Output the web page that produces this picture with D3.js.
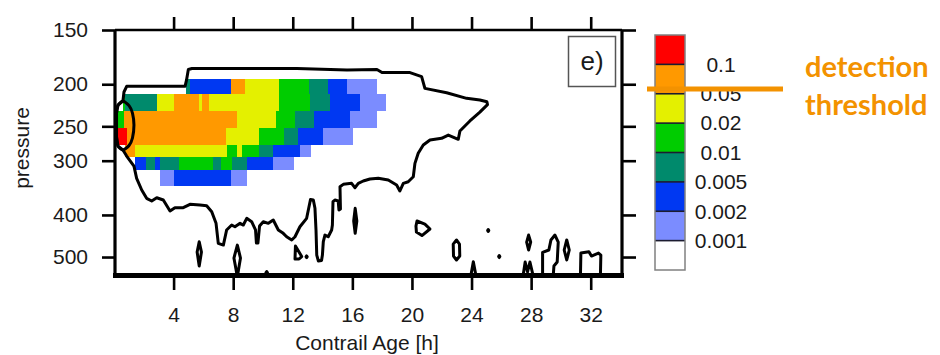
<!DOCTYPE html>
<html>
<head>
<meta charset="utf-8">
<script src="https://cdn.jsdelivr.net/npm/d3@7"></script>
<style>
  html, body { margin: 0; padding: 0; background: #ffffff; }
  svg { display: block; }
  .ax text { font-family: "Liberation Sans", Arial, Helvetica, sans-serif; font-size: 21px; fill: #1a1a1a; }
</style>
</head>
<body>
<svg id="chart" width="940" height="355"></svg>
<script>
// ---- data -------------------------------------------------------------
// contour levels (extinction) and the fill colour of each interval
const levels = [0.001, 0.002, 0.005, 0.01, 0.02, 0.05, 0.1];
const levelLabels = ["0.001", "0.002", "0.005", "0.01", "0.02", "0.05", "0.1"];
const palette = ["#ffffff", "#7b8cff", "#0038f2", "#008a6c", "#00cc00", "#e4f000", "#ff9900", "#ff0000"];

const xTicks = [4, 8, 12, 16, 20, 24, 28, 32];
const yTicks = [150, 200, 250, 300, 400, 500];

// pressure level edges (hPa) of the rows below
const rowEdges = [195, 211, 231, 252, 276, 294, 315, 343];

// per pressure row: [age start (h), age end (h), value]
const row0 = [[4.83, 5.10, 0.007], [5.10, 7.83, 0.003], [7.83, 8.79, 0.07], [8.79, 11.07, 0.03],
  [11.07, 13.11, 0.015], [13.11, 14.38, 0.007], [14.38, 15.66, 0.003], [15.66, 17.67, 0.0015]];
const row1 = [[0.58, 0.74, 0.015], [0.74, 2.87, 0.007], [2.87, 4.01, 0.03], [4.01, 5.72, 0.07],
  [5.72, 5.89, 0.03], [5.89, 6.40, 0.07], [6.40, 11.05, 0.03], [11.05, 13.13, 0.015],
  [13.13, 14.52, 0.007], [14.52, 16.53, 0.003], [16.53, 18.24, 0.0015]];
const row2 = [[0.23, 0.70, 0.015], [0.70, 8.23, 0.07], [8.23, 10.87, 0.03], [10.87, 12.15, 0.015],
  [12.15, 13.40, 0.007], [13.40, 15.84, 0.003], [15.84, 17.65, 0.0015]];
const row3 = [[0.22, 0.85, 0.15], [0.85, 7.52, 0.07], [7.52, 9.75, 0.03], [9.75, 11.41, 0.015],
  [11.41, 12.35, 0.007], [12.35, 14.01, 0.003], [14.01, 16.02, 0.0015]];
const row4 = [[0.74, 1.41, 0.07], [1.41, 7.56, 0.03], [7.56, 8.23, 0.015], [8.23, 8.59, 0.03],
  [8.59, 9.75, 0.015], [9.75, 10.65, 0.007], [10.65, 12.50, 0.003], [12.50, 13.22, 0.0015]];
const row5 = [[1.41, 2.15, 0.003], [2.15, 2.72, 0.007], [2.72, 3.09, 0.003], [3.09, 4.38, 0.007],
  [4.38, 6.64, 0.015], [6.64, 7.18, 0.007], [7.18, 7.90, 0.015], [7.90, 8.95, 0.007],
  [8.95, 10.65, 0.003], [10.65, 12.10, 0.0015]];
const row6 = [[3.09, 4.03, 0.0015], [4.03, 7.84, 0.003], [7.84, 8.93, 0.0015]];
const rows = [row0, row1, row2, row3, row4, row5, row6];

// outline of the supersaturated region: [age (h), pressure (hPa)]
const outline = [
  [4.99, 185], [5.23, 184], [12.28, 184], [15.64, 185.4], [17.65, 185], [17.99, 188], [19.87, 188],
  [20.65, 192], [20.87, 204.4], [22.33, 209.2], [23.67, 215.5], [24.56, 217.4], [25.03, 219.4],
  [25.07, 222.8], [24.56, 231.8], [23.89, 243], [23.22, 256.3], [23.11, 267.8], [22.44, 261.9],
  [21.99, 266.4], [21.21, 268.8], [20.76, 276.1], [20.42, 288.5], [20.20, 304.3], [20.09, 326.7],
  [19.75, 335.4], [19.42, 338.3], [19.19, 352.3], [18.97, 341.4], [18.41, 332.3], [17.74, 329.4],
  [17.18, 330.6], [16.73, 334.1], [16.40, 338.3], [16.17, 346.2], [15.95, 338.3], [15.39, 340.1],
  [15.17, 344.4], [15.20, 387.6], [15.10, 389.6], [15.05, 371.5], [14.83, 369.5], [14.70, 372.9],
  [14.66, 422], [14.61, 433.2], [14.38, 449], [14.16, 445], [14.05, 461], [13.99, 494.8],
  [13.93, 509.3], [13.72, 510.7], [13.61, 494.8], [13.56, 433.2], [13.49, 386.2], [13.38, 369.5],
  [13.19, 368.5], [12.93, 407.2], [12.48, 425.8], [12.15, 449], [11.93, 456.8], [11.59, 449],
  [11.36, 441], [11.03, 433.2], [10.69, 410.8], [10.36, 418.2], [10.02, 414.6], [9.77, 424.2],
  [9.66, 464.3], [9.56, 464.3], [9.50, 433.2], [9.24, 414.6], [8.91, 407.2], [8.68, 422],
  [8.46, 418.2], [8.12, 425.8], [7.90, 422], [7.56, 433.2], [7.34, 469.3], [7.00, 465],
  [6.85, 418.2], [6.56, 393.2], [6.22, 381], [5.77, 379.6], [5.10, 378.1], [4.65, 384.9],
  [4.09, 384.9], [3.76, 391.7], [3.31, 369.5], [2.87, 365.1], [2.53, 371.5], [2.19, 366.3],
  [1.86, 350.4], [1.52, 329.4], [1.34, 308.7], [0.85, 292.7], [0.60, 283.4], [0.27, 277.6],
  [0.17, 264.6], [0.17, 233], [0.27, 223.4], [0.60, 218.6], [0.67, 208.4], [0.85, 202.2],
  [4.77, 202.2], [4.87, 195.5]
];

// young-contrail core
const core = [[0.60, 218.6], [1.01, 224], [1.24, 233], [1.34, 248.3], [1.24, 266], [1.01, 276.8],
  [0.60, 283.4], [0.27, 277.6], [0.17, 264.6], [0.17, 233], [0.27, 223.4]];

// small isolated patches near the lower boundary
const patches = [
  [[5.72, 461], [5.87, 487], [5.72, 524.5], [5.58, 487]],
  [[8.28, 469.3], [8.49, 502.7], [8.28, 555], [8.05, 502.7]],
  [[10.25, 540], [10.3, 543], [10.25, 546], [10.2, 543]],
  [[12.18, 471.7], [12.6, 498.7], [12.42, 505.3], [12.15, 505.3]],
  [[12.93, 497], [12.97, 499.3], [12.93, 501.6], [12.89, 499.3]],
  [[16.19, 386.2], [16.3, 413], [16.19, 441], [16.09, 413]],
  [[20.34, 413], [20.87, 419.8], [21.21, 430.9], [20.67, 446.2], [20.30, 437.9], [20.27, 424.2]],
  [[25.12, 432], [25.16, 434.4], [25.12, 436.8], [25.08, 434.4]],
  [[22.99, 456.8], [23.19, 466.8], [23.21, 497.4], [22.99, 507.9], [22.79, 497.4], [22.77, 466.8]],
  [[25.86, 496], [25.9, 498.7], [25.86, 501.4], [25.82, 498.7]],
  [[23.94, 555], [24.12, 512.6], [24.31, 555]],
  [[27.83, 445], [27.97, 461.8], [27.83, 481.7], [27.7, 461.8]],
  [[27.45, 555], [27.6, 513.4], [27.76, 541.3], [27.92, 513.4], [28.15, 555]],
  [[28.77, 555], [28.77, 487.7], [29.19, 481.7], [29.33, 456.8], [29.6, 445], [29.82, 461.8],
    [29.75, 513.4], [29.53, 524.5], [29.48, 555]],
  [[30.39, 456.8], [30.56, 481.7], [30.39, 507.9], [30.22, 481.7]],
  [[31.31, 555], [31.34, 489.6], [31.88, 486.2], [32.05, 497.4], [32.52, 489.6], [32.68, 494.8], [32.65, 555]]
];

// ---- layout -----------------------------------------------------------
const svg = d3.select("#chart");
const x = d3.scaleLinear().domain([0, 34.1]).range([114, 622]);
const y = d3.scaleLog().domain([150, 550]).range([30, 275]);
const color = d3.scaleThreshold().domain(levels).range(palette);
const fontFamily = '"Liberation Sans", Arial, Helvetica, sans-serif';

svg.append("defs").append("clipPath").attr("id", "plotClip")
  .append("rect").attr("x", x(0)).attr("y", y(150))
  .attr("width", x(34.1) - x(0)).attr("height", y(550) - y(150));

const plot = svg.append("g").attr("clip-path", "url(#plotClip)");

// shaded cells
const cells = rows.flatMap((segs, i) => segs.map(s => ({ x0: s[0], x1: s[1], v: s[2], pTop: rowEdges[i], pBot: rowEdges[i + 1] })));
plot.append("g").attr("shape-rendering", "crispEdges").selectAll("rect").data(cells).join("rect")
  .attr("x", d => x(d.x0))
  .attr("y", d => y(d.pTop))
  .attr("width", d => x(d.x1) - x(d.x0))
  .attr("height", d => y(d.pBot) - y(d.pTop))
  .attr("fill", d => color(d.v));

// contour lines
const line = d3.line().x(d => x(d[0])).y(d => y(d[1])).curve(d3.curveLinearClosed);
const smooth = d3.line().x(d => x(d[0])).y(d => y(d[1])).curve(d3.curveCardinalClosed.tension(0.3));
const lines = plot.append("g").attr("fill", "none").attr("stroke", "#000")
  .attr("stroke-width", 3).attr("stroke-linejoin", "round").attr("stroke-linecap", "round");
lines.append("path").attr("d", line(outline));
lines.append("path").attr("d", smooth(core));
lines.selectAll("path.patch").data(patches).join("path").attr("class", "patch").attr("d", d => line(d));

// frame
const frame = svg.append("g").attr("stroke", "#000").attr("fill", "none");
frame.append("line").attr("x1", x(0) + 1).attr("x2", x(34.1)).attr("y1", y(150)).attr("y2", y(150)).attr("stroke-width", 2.6);
frame.append("line").attr("x1", x(0) + 1).attr("x2", x(0) + 1).attr("y1", y(150)).attr("y2", y(550) + 2).attr("stroke-width", 3.2);
frame.append("line").attr("x1", x(34.1)).attr("x2", x(34.1)).attr("y1", y(150)).attr("y2", y(550) + 2).attr("stroke-width", 3.2);
frame.append("line").attr("x1", x(0) - 1).attr("x2", x(34.1) + 2).attr("y1", y(550) + 0.5).attr("y2", y(550) + 0.5).attr("stroke-width", 5);

// axes
function styleAxis(g) {
  g.select(".domain").remove();
  g.selectAll(".tick line").attr("stroke", "#000").attr("stroke-width", 2.6);
}
svg.append("g").attr("class", "ax").attr("transform", `translate(0,${y(550) + 2})`)
  .call(d3.axisBottom(x).tickValues(xTicks).tickSize(13).tickPadding(17.5).tickFormat(d3.format("d")))
  .call(styleAxis);
svg.append("g").attr("class", "ax").attr("transform", `translate(0,${y(150)})`)
  .call(d3.axisTop(x).tickValues(xTicks).tickSize(13).tickFormat(""))
  .call(styleAxis);
svg.append("g").attr("class", "ax").attr("transform", `translate(${x(0) + 1},0)`)
  .call(d3.axisLeft(y).tickValues(yTicks).tickSize(13).tickPadding(14).tickFormat(d3.format("d")))
  .call(styleAxis);
svg.append("g").attr("class", "ax").attr("transform", `translate(${x(34.1)},0)`)
  .call(d3.axisRight(y).tickValues(yTicks).tickSize(14).tickFormat(""))
  .call(styleAxis);

svg.append("text").attr("x", 367).attr("y", 350).attr("text-anchor", "middle")
  .attr("font-family", fontFamily).attr("font-size", 21).attr("fill", "#1a1a1a")
  .text("Contrail Age [h]");
svg.append("text").attr("transform", "translate(29,148) rotate(-90)").attr("text-anchor", "middle")
  .attr("font-family", fontFamily).attr("font-size", 21).attr("fill", "#1a1a1a")
  .text("pressure");

// panel tag
svg.append("rect").attr("x", 568.5).attr("y", 36.5).attr("width", 47).attr("height", 50)
  .attr("fill", "#fff").attr("stroke", "#555").attr("stroke-width", 1.5);
svg.append("text").attr("x", 592).attr("y", 70).attr("text-anchor", "middle")
  .attr("font-family", fontFamily).attr("font-size", 26).attr("fill", "#1a1a1a").text("e)");

// ---- colour bar -----------------------------------------------------
const cb = d3.scaleLinear().domain([0, palette.length]).range([270, 35]);
const cbX = 655, cbW = 30;
const cbar = svg.append("g");
cbar.selectAll("rect").data(palette).join("rect")
  .attr("x", cbX).attr("width", cbW)
  .attr("y", (d, i) => cb(i + 1)).attr("height", (d, i) => cb(i) - cb(i + 1))
  .attr("fill", d => d);
cbar.selectAll("line").data(levels).join("line")
  .attr("x1", cbX).attr("x2", cbX + cbW)
  .attr("y1", (d, i) => cb(i + 1)).attr("y2", (d, i) => cb(i + 1))
  .attr("stroke", "#1c1c30").attr("stroke-width", 1.6);
cbar.append("rect").attr("x", cbX).attr("y", cb(palette.length)).attr("width", cbW)
  .attr("height", cb(0) - cb(palette.length)).attr("fill", "none").attr("stroke", "#808080").attr("stroke-width", 1.5);
cbar.selectAll("text").data(levelLabels).join("text")
  .attr("x", 721).attr("y", (d, i) => cb(i + 1)).attr("dy", "0.35em").attr("text-anchor", "middle")
  .attr("font-family", fontFamily).attr("font-size", 21).attr("fill", "#1a1a1a")
  .text(d => d);

// detection threshold marker
const accent = "#f39200";
svg.append("line").attr("x1", 647).attr("x2", 783).attr("y1", 89).attr("y2", 89)
  .attr("stroke", accent).attr("stroke-width", 5);
const note = svg.append("text").attr("font-family", "Lato, 'Open Sans', sans-serif")
  .attr("font-weight", 700).attr("font-size", 29).attr("fill", accent);
note.append("tspan").attr("x", 805).attr("y", 77).text("detection");
note.append("tspan").attr("x", 805).attr("y", 115).text("threshold");
</script>
</body>
</html>
